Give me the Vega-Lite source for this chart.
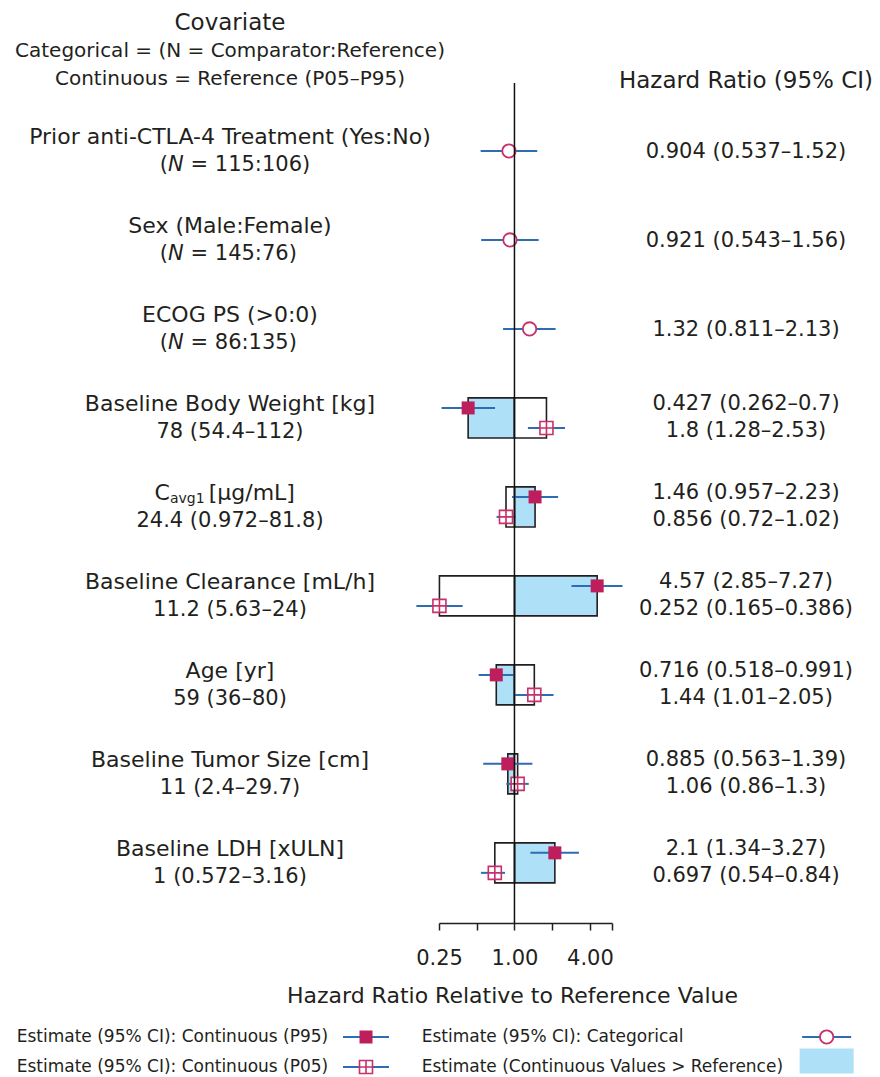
{
"$schema": "https://vega.github.io/schema/vega-lite/v6.json",
"background": "white",
"padding": {"left": 0, "right": 0, "top": 12, "bottom": 0},
"config": {
  "view": {"stroke": null},
  "font": "DejaVu Sans",
  "text": {"font": "DejaVu Sans", "color": "#231F20", "fontSize": 21},
  "title": {"font": "DejaVu Sans", "subtitleFont": "DejaVu Sans", "color": "#231F20", "subtitleColor": "#231F20", "fontWeight": "normal"}
},
"datasets": {
  "est": [
    {"cov": "Prior", "level": "cat", "est": 0.904, "lo": 0.537, "hi": 1.52, "txt": "0.904 (0.537–1.52)"},
    {"cov": "Sex", "level": "cat", "est": 0.921, "lo": 0.543, "hi": 1.56, "txt": "0.921 (0.543–1.56)"},
    {"cov": "ECOG", "level": "cat", "est": 1.32, "lo": 0.811, "hi": 2.13, "txt": "1.32 (0.811–2.13)"},
    {"cov": "Weight", "level": "P95", "est": 0.427, "lo": 0.262, "hi": 0.7, "txt": "0.427 (0.262–0.7)"},
    {"cov": "Weight", "level": "P05", "est": 1.8, "lo": 1.28, "hi": 2.53, "txt": "1.8 (1.28–2.53)"},
    {"cov": "Cavg1", "level": "P95", "est": 1.46, "lo": 0.957, "hi": 2.23, "txt": "1.46 (0.957–2.23)"},
    {"cov": "Cavg1", "level": "P05", "est": 0.856, "lo": 0.72, "hi": 1.02, "txt": "0.856 (0.72–1.02)"},
    {"cov": "Clearance", "level": "P95", "est": 4.57, "lo": 2.85, "hi": 7.27, "txt": "4.57 (2.85–7.27)"},
    {"cov": "Clearance", "level": "P05", "est": 0.252, "lo": 0.165, "hi": 0.386, "txt": "0.252 (0.165–0.386)"},
    {"cov": "Age", "level": "P95", "est": 0.716, "lo": 0.518, "hi": 0.991, "txt": "0.716 (0.518–0.991)"},
    {"cov": "Age", "level": "P05", "est": 1.44, "lo": 1.01, "hi": 2.05, "txt": "1.44 (1.01–2.05)"},
    {"cov": "Tumor", "level": "P95", "est": 0.885, "lo": 0.563, "hi": 1.39, "txt": "0.885 (0.563–1.39)"},
    {"cov": "Tumor", "level": "P05", "est": 1.06, "lo": 0.86, "hi": 1.3, "txt": "1.06 (0.86–1.3)"},
    {"cov": "LDH", "level": "P95", "est": 2.1, "lo": 1.34, "hi": 3.27, "txt": "2.1 (1.34–3.27)"},
    {"cov": "LDH", "level": "P05", "est": 0.697, "lo": 0.54, "hi": 0.84, "txt": "0.697 (0.54–0.84)"}
  ],
  "labels": [
    {"cov": "Prior", "l1": "Prior anti-CTLA-4 Treatment (Yes:No)", "nrest": "= 115:106)"},
    {"cov": "Sex", "l1": "Sex (Male:Female)", "nrest": "= 145:76)"},
    {"cov": "ECOG", "l1": "ECOG PS (>0:0)", "nrest": "= 86:135)"},
    {"cov": "Weight", "l1": "Baseline Body Weight [kg]", "l2": "78 (54.4–112)"},
    {"cov": "Cavg1", "l2": "24.4 (0.972–81.8)"},
    {"cov": "Clearance", "l1": "Baseline Clearance [mL/h]", "l2": "11.2 (5.63–24)"},
    {"cov": "Age", "l1": "Age [yr]", "l2": "59 (36–80)"},
    {"cov": "Tumor", "l1": "Baseline Tumor Size [cm]", "l2": "11 (2.4–29.7)"},
    {"cov": "LDH", "l1": "Baseline LDH [xULN]", "l2": "1 (0.572–3.16)"}
  ],
  "legend": [
    {"col": "left", "row": "1", "kind": "P95", "label": "Estimate (95% CI): Continuous (P95)"},
    {"col": "left", "row": "2", "kind": "P05", "label": "Estimate (95% CI): Continuous (P05)"},
    {"col": "right", "row": "1", "kind": "cat", "label": "Estimate (95% CI): Categorical"},
    {"col": "right", "row": "2", "kind": "box", "label": "Estimate (Continuous Values > Reference)"}
  ]
},
"spacing": 18,
"vconcat": [
  {
    "bounds": "flush",
    "spacing": 0,
    "hconcat": [
      {
        "width": 439, "height": 840,
        "title": {"text": "Covariate", "subtitle": ["Categorical = (N = Comparator:Reference)", "Continuous = Reference (P05–P95)"], "fontSize": 23, "subtitleFontSize": 20, "subtitleLineHeight": 28, "subtitlePadding": 6, "anchor": "middle", "dx": 10.5, "offset": -6},
        "data": {"name": "labels"},
        "encoding": {
          "y": {"field": "cov", "type": "nominal", "axis": null, "scale": {"type": "band", "domain": ["Prior", "Sex", "ECOG", "Weight", "Cavg1", "Clearance", "Age", "Tumor", "LDH"], "paddingInner": 0, "paddingOuter": 0.22, "align": 0.6}},
          "x": {"datum": "c", "type": "nominal", "axis": null, "scale": {"type": "point", "padding": 0.5}}
        },
        "layer": [
          {"transform": [{"filter": "datum.l1 != null"}], "mark": {"type": "text", "dx": 10.5, "dy": -14, "fontSize": 22}, "encoding": {"text": {"field": "l1"}}},
          {"transform": [{"filter": "datum.l2 != null"}], "mark": {"type": "text", "dx": 10.5, "dy": 14}, "encoding": {"text": {"field": "l2"}}},
          {"transform": [{"filter": "datum.nrest != null"}], "mark": {"type": "text", "align": "right", "dx": -51.5, "dy": 14}, "encoding": {"text": {"value": "("}}},
          {"transform": [{"filter": "datum.nrest != null"}], "mark": {"type": "text", "align": "left", "fontStyle": "italic", "dx": -51.5, "dy": 14}, "encoding": {"text": {"value": "N"}}},
          {"transform": [{"filter": "datum.nrest != null"}], "mark": {"type": "text", "align": "left", "dx": -29, "dy": 14}, "encoding": {"text": {"field": "nrest"}}},
          {"transform": [{"filter": "datum.cov == 'Cavg1'"}], "mark": {"type": "text", "align": "left", "dx": -65, "dy": -14, "fontSize": 22}, "encoding": {"text": {"value": "C"}}},
          {"transform": [{"filter": "datum.cov == 'Cavg1'"}], "mark": {"type": "text", "align": "left", "dx": -49.5, "dy": -8, "fontSize": 14}, "encoding": {"text": {"value": "avg1"}}},
          {"transform": [{"filter": "datum.cov == 'Cavg1'"}], "mark": {"type": "text", "align": "left", "dx": -10.8, "dy": -14, "fontSize": 22}, "encoding": {"text": {"value": "[µg/mL]"}}}
        ]
      },
      {
        "width": 173, "height": 840,
        "data": {"name": "est"},
        "layer": [
          {
            "transform": [{"filter": "datum.level != 'cat'"}],
            "mark": {"type": "bar", "height": {"band": 0.45}, "stroke": "#231F20", "strokeWidth": 1.6},
            "encoding": {
              "y": {"field": "cov", "type": "nominal", "axis": null, "scale": {"type": "band", "domain": ["Prior", "Sex", "ECOG", "Weight", "Cavg1", "Clearance", "Age", "Tumor", "LDH"], "paddingInner": 0, "paddingOuter": 0.22, "align": 0.6}},
              "x": {"field": "est", "type": "quantitative", "scale": {"type": "log", "domain": [0.25, 6], "nice": false},
                "axis": {"values": [0.25, 0.5, 1, 2, 4, 6], "labelExpr": "datum.value == 0.25 || datum.value == 1 || datum.value == 4 ? format(datum.value, '.2f') : ''", "title": "Hazard Ratio Relative to Reference Value", "grid": false, "domainColor": "#231F20", "domainWidth": 1.5, "tickColor": "#231F20", "tickWidth": 1.5, "tickSize": 7, "labelFont": "DejaVu Sans", "labelFontSize": 21, "labelColor": "#231F20", "labelPadding": 17, "labelFlush": false, "labelOverlap": false, "labelBound": false, "titleFont": "DejaVu Sans", "titleFontSize": 22, "titleFontWeight": "normal", "titleColor": "#231F20", "titlePadding": 17, "titleX": 73}},
              "x2": {"datum": 1},
              "fill": {"field": "level", "type": "nominal", "scale": {"domain": ["P95", "P05"], "range": ["#AEE0F7", "#FFFFFF"]}, "legend": null}
            }
          },
          {
            "transform": [{"filter": "datum.level == 'P95'"}],
            "mark": {"type": "rule", "color": "#2E6DB4", "strokeWidth": 2, "yOffset": -10},
            "encoding": {"y": {"field": "cov", "type": "nominal"}, "x": {"field": "lo", "type": "quantitative"}, "x2": {"field": "hi"}}
          },
          {
            "transform": [{"filter": "datum.level == 'P05'"}],
            "mark": {"type": "rule", "color": "#2E6DB4", "strokeWidth": 2, "yOffset": 10},
            "encoding": {"y": {"field": "cov", "type": "nominal"}, "x": {"field": "lo", "type": "quantitative"}, "x2": {"field": "hi"}}
          },
          {
            "transform": [{"filter": "datum.level == 'cat'"}],
            "mark": {"type": "rule", "color": "#2E6DB4", "strokeWidth": 2},
            "encoding": {"y": {"field": "cov", "type": "nominal"}, "x": {"field": "lo", "type": "quantitative"}, "x2": {"field": "hi"}}
          },
          {
            "transform": [{"filter": "datum.level == 'P95'"}],
            "mark": {"type": "point", "shape": "square", "filled": true, "color": "#BE1E5C", "size": 169, "opacity": 1, "yOffset": -10},
            "encoding": {"y": {"field": "cov", "type": "nominal"}, "x": {"field": "est", "type": "quantitative"}}
          },
          {
            "transform": [{"filter": "datum.level == 'P05'"}],
            "mark": {"type": "point", "shape": "M-1,-1H1V1H-1Z M0,-1V1 M-1,0H1", "filled": true, "fill": "#FFFFFF", "stroke": "#C8306A", "strokeWidth": 1.6, "size": 169, "opacity": 1, "yOffset": 10},
            "encoding": {"y": {"field": "cov", "type": "nominal"}, "x": {"field": "est", "type": "quantitative"}}
          },
          {
            "transform": [{"filter": "datum.level == 'cat'"}],
            "mark": {"type": "point", "shape": "circle", "filled": true, "fill": "#FFFFFF", "stroke": "#C8306A", "strokeWidth": 1.8, "size": 180, "opacity": 1},
            "encoding": {"y": {"field": "cov", "type": "nominal"}, "x": {"field": "est", "type": "quantitative"}}
          },
          {
            "data": {"values": [{"ref": 1}]},
            "mark": {"type": "rule", "color": "#111111", "strokeWidth": 1.5},
            "encoding": {"x": {"field": "ref", "type": "quantitative"}}
          }
        ]
      },
      {
        "width": 268, "height": 840,
        "title": {"text": "Hazard Ratio (95% CI)", "fontSize": 23, "anchor": "middle", "offset": -10},
        "data": {"name": "est"},
        "encoding": {
          "y": {"field": "cov", "type": "nominal", "axis": null, "scale": {"type": "band", "domain": ["Prior", "Sex", "ECOG", "Weight", "Cavg1", "Clearance", "Age", "Tumor", "LDH"], "paddingInner": 0, "paddingOuter": 0.22, "align": 0.6}},
          "x": {"datum": "c", "type": "nominal", "axis": null, "scale": {"type": "point", "padding": 0.5}},
          "text": {"field": "txt"}
        },
        "layer": [
          {"transform": [{"filter": "datum.level == 'cat'"}], "mark": {"type": "text", "dy": 1}},
          {"transform": [{"filter": "datum.level == 'P95'"}], "mark": {"type": "text", "dy": -13.5}},
          {"transform": [{"filter": "datum.level == 'P05'"}], "mark": {"type": "text", "dy": 13.5}}
        ]
      }
    ]
  },
  {
    "width": 880, "height": 56,
    "data": {"name": "legend"},
    "layer": [
      {
        "mark": {"type": "text", "align": "left", "fontSize": 17},
        "encoding": {
          "x": {"field": "col", "type": "nominal", "axis": null, "bandPosition": 0, "scale": {"type": "band", "domain": ["left", "right"], "paddingInner": 0, "paddingOuter": 0.0865, "align": 0.2386}},
          "y": {"field": "row", "type": "nominal", "axis": null, "scale": {"type": "point", "domain": ["1", "2"], "padding": 0.433}},
          "text": {"field": "label"}
        }
      },
      {
        "transform": [{"filter": "datum.col == 'left'"}],
        "mark": {"type": "point", "shape": "stroke", "color": "#2E6DB4", "strokeWidth": 2, "size": 2116, "opacity": 1},
        "encoding": {"x": {"field": "col", "type": "nominal", "bandPosition": 0.8625}, "y": {"field": "row", "type": "nominal"}}
      },
      {
        "transform": [{"filter": "datum.kind == 'P95'"}],
        "mark": {"type": "point", "shape": "square", "filled": true, "color": "#BE1E5C", "size": 169, "opacity": 1},
        "encoding": {"x": {"field": "col", "type": "nominal", "bandPosition": 0.8625}, "y": {"field": "row", "type": "nominal"}}
      },
      {
        "transform": [{"filter": "datum.kind == 'P05'"}],
        "mark": {"type": "point", "shape": "M-1,-1H1V1H-1Z M0,-1V1 M-1,0H1", "filled": true, "fill": "#FFFFFF", "stroke": "#C8306A", "strokeWidth": 1.6, "size": 169, "opacity": 1},
        "encoding": {"x": {"field": "col", "type": "nominal", "bandPosition": 0.8625}, "y": {"field": "row", "type": "nominal"}}
      },
      {
        "transform": [{"filter": "datum.kind == 'cat'"}],
        "mark": {"type": "point", "shape": "stroke", "color": "#2E6DB4", "strokeWidth": 2, "size": 2401, "opacity": 1},
        "encoding": {"x": {"field": "col", "type": "nominal", "bandPosition": 1}, "y": {"field": "row", "type": "nominal"}}
      },
      {
        "transform": [{"filter": "datum.kind == 'cat'"}],
        "mark": {"type": "point", "shape": "circle", "filled": true, "fill": "#FFFFFF", "stroke": "#C8306A", "strokeWidth": 1.8, "size": 180, "opacity": 1},
        "encoding": {"x": {"field": "col", "type": "nominal", "bandPosition": 1}, "y": {"field": "row", "type": "nominal"}}
      },
      {
        "transform": [{"filter": "datum.kind == 'box'"}],
        "mark": {"type": "point", "shape": "M-1,-0.46H1V0.46H-1Z", "filled": true, "fill": "#AEE0F7", "strokeWidth": 0, "size": 2916, "opacity": 1, "yOffset": -6},
        "encoding": {"x": {"field": "col", "type": "nominal", "bandPosition": 1}, "y": {"field": "row", "type": "nominal"}}
      }
    ]
  }
]
}
